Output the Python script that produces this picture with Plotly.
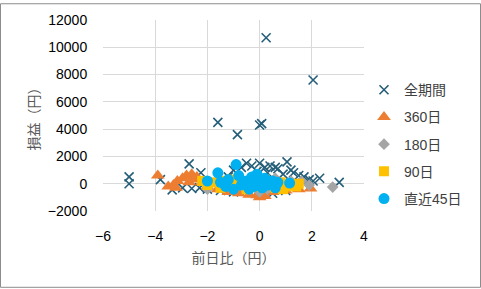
import plotly.graph_objects as go

# 全期間
all_x = [-5.0, -5.0, -3.8, -3.35, -2.95, -2.7, -2.6, -2.3, -2.25, -1.6, -0.85, 0.0, 0.08, 0.25,
         2.05, -1.0, -0.5, -0.3, 0.0, 0.2, 0.4, 0.6, 1.05, 1.2, 1.5, 1.7, 1.9, 2.05, 2.3, 3.05,
         -1.5, -1.0, 0.5, 1.0, -0.1, 0.3, 0.7, 0.9, -0.7, 1.3, -2.0, -1.2]
all_y = [500, 0, 300, -450, -300, 1450, -350, -300, 800, 4500, 3600, 4300, 4400, 10700,
         7600, 1000, 1500, 1300, 1500, 1200, 1300, 1200, 1600, 1000, 600, 500, 300, 200, 400, 100,
         -500, -600, -700, -500, 900, 800, 1100, 700, 1200, 800, -400, 500]

# 360日
d360_x = [-3.9, -3.5, -3.3, -3.15, -2.95, -2.8, -2.6, -2.5, -2.4, -2.2, -2.0, -1.6, -1.2, -0.8,
          -0.4, 0.0, 0.2, 0.5, 1.0, 1.5, 1.95, -3.2, -2.7, -0.1]
d360_y = [600, -200, -100, 200, 400, 600, 700, 300, 500, 100, -200, -400, -600, -700,
          -800, -1000, -900, -600, -500, -400, -350, -300, 100, -850]

# 180日
d180_x = [-2.0, 2.8, 1.9, 1.6, -0.5, 0.3, -1.2, 0.6, 1.2, -0.9, 0.0]
d180_y = [-400, -250, -100, 200, -300, -400, -100, 400, 200, 300, -600]

# 90日
d90_x = [-2.2, -2.0, -1.8, -1.5, -1.3, -1.0, -0.8, -0.5, -0.3, 0.0, 0.2, 0.4, 0.6, 0.8, 1.0,
         1.2, 1.4, 1.5, -1.1, 0.9]
d90_y = [200, -100, 100, -300, 200, -200, 100, -400, 200, -200, 300, -100, -300, 100, -200,
         -100, -200, 0, 300, -400]

# 直近45日
d45_x = [-2.0, -1.6, -1.5, -1.3, -1.2, -0.9, -0.8, -0.7, -0.5, -0.4, -0.3, -0.2, 0.0, 0.1, 0.2,
         0.3, 0.5, 0.6, 0.7, -1.0, 1.15, -0.1]
d45_y = [200, 800, 100, -200, 300, 1400, 600, -100, 200, -400, 500, -200, 100, -300, 400,
         -100, 200, -300, 100, -400, 50, 700]

FONT = "Liberation Sans, Arial, Noto Sans CJK JP"

fig = go.Figure()
fig.add_trace(go.Scatter(x=all_x, y=all_y, mode="markers", name="全期間", legendgroup="a",
                         marker=dict(symbol="x-thin", size=9, color="#255E79",
                                     line=dict(width=1.6, color="#255E79"))))
fig.add_trace(go.Scatter(x=d360_x, y=d360_y, mode="markers", name="360日", legendgroup="b",
                         marker=dict(symbol="triangle-up", size=12, color="#ED7D31")))
fig.add_trace(go.Scatter(x=d180_x, y=d180_y, mode="markers", name="180日", legendgroup="c",
                         marker=dict(symbol="diamond", size=9, color="#A5A5A5")))
fig.add_trace(go.Scatter(x=d90_x, y=d90_y, mode="markers", name="90日", legendgroup="d",
                         marker=dict(symbol="square", size=10, color="#FFC000")))
fig.add_trace(go.Scatter(x=d45_x, y=d45_y, mode="markers", name="直近45日", legendgroup="e",
                         marker=dict(symbol="circle", size=11, color="#00B0F0")))

axis_common = dict(showgrid=True, gridcolor="#D9D9D9", gridwidth=1, zeroline=True,
                   zerolinecolor="#D9D9D9", zerolinewidth=1, showline=False,
                   ticks="outside", tickcolor="rgba(0,0,0,0)",
                   tickformat="d",
                   tickfont=dict(family=FONT, size=14, color="#000000"))

fig.update_xaxes(range=[-6, 4], dtick=2, tick0=-6, ticklen=12,
                 title=dict(text="前日比（円）", font=dict(family=FONT, size=14, color="#595959"),
                            standoff=10),
                 **axis_common)
fig.update_yaxes(range=[-2000, 12000], dtick=2000, ticklen=12,
                 title=dict(text="損益（円）", font=dict(family=FONT, size=14, color="#595959"),
                            standoff=4),
                 **axis_common)

fig.update_layout(
    width=481, height=289,
    margin=dict(l=103, r=117, t=17, b=78),
    paper_bgcolor="white", plot_bgcolor="white",
    showlegend=True,
    legend=dict(x=1.0, y=0.35, xanchor="left", yanchor="middle",
                font=dict(family=FONT, size=14, color="#404040"),
                tracegroupgap=6, itemwidth=30),
    shapes=[dict(type="rect", xref="paper", yref="paper",
                 x0=(0.5 - 103) / 261, x1=(480.5 - 103) / 261,
                 y0=(211 - 288.5) / 194, y1=(211 - 0.5) / 194,
                 line=dict(color="#8C8C8C", width=1), fillcolor="rgba(0,0,0,0)", layer="below")],
)

fig.write_html("out.html")
